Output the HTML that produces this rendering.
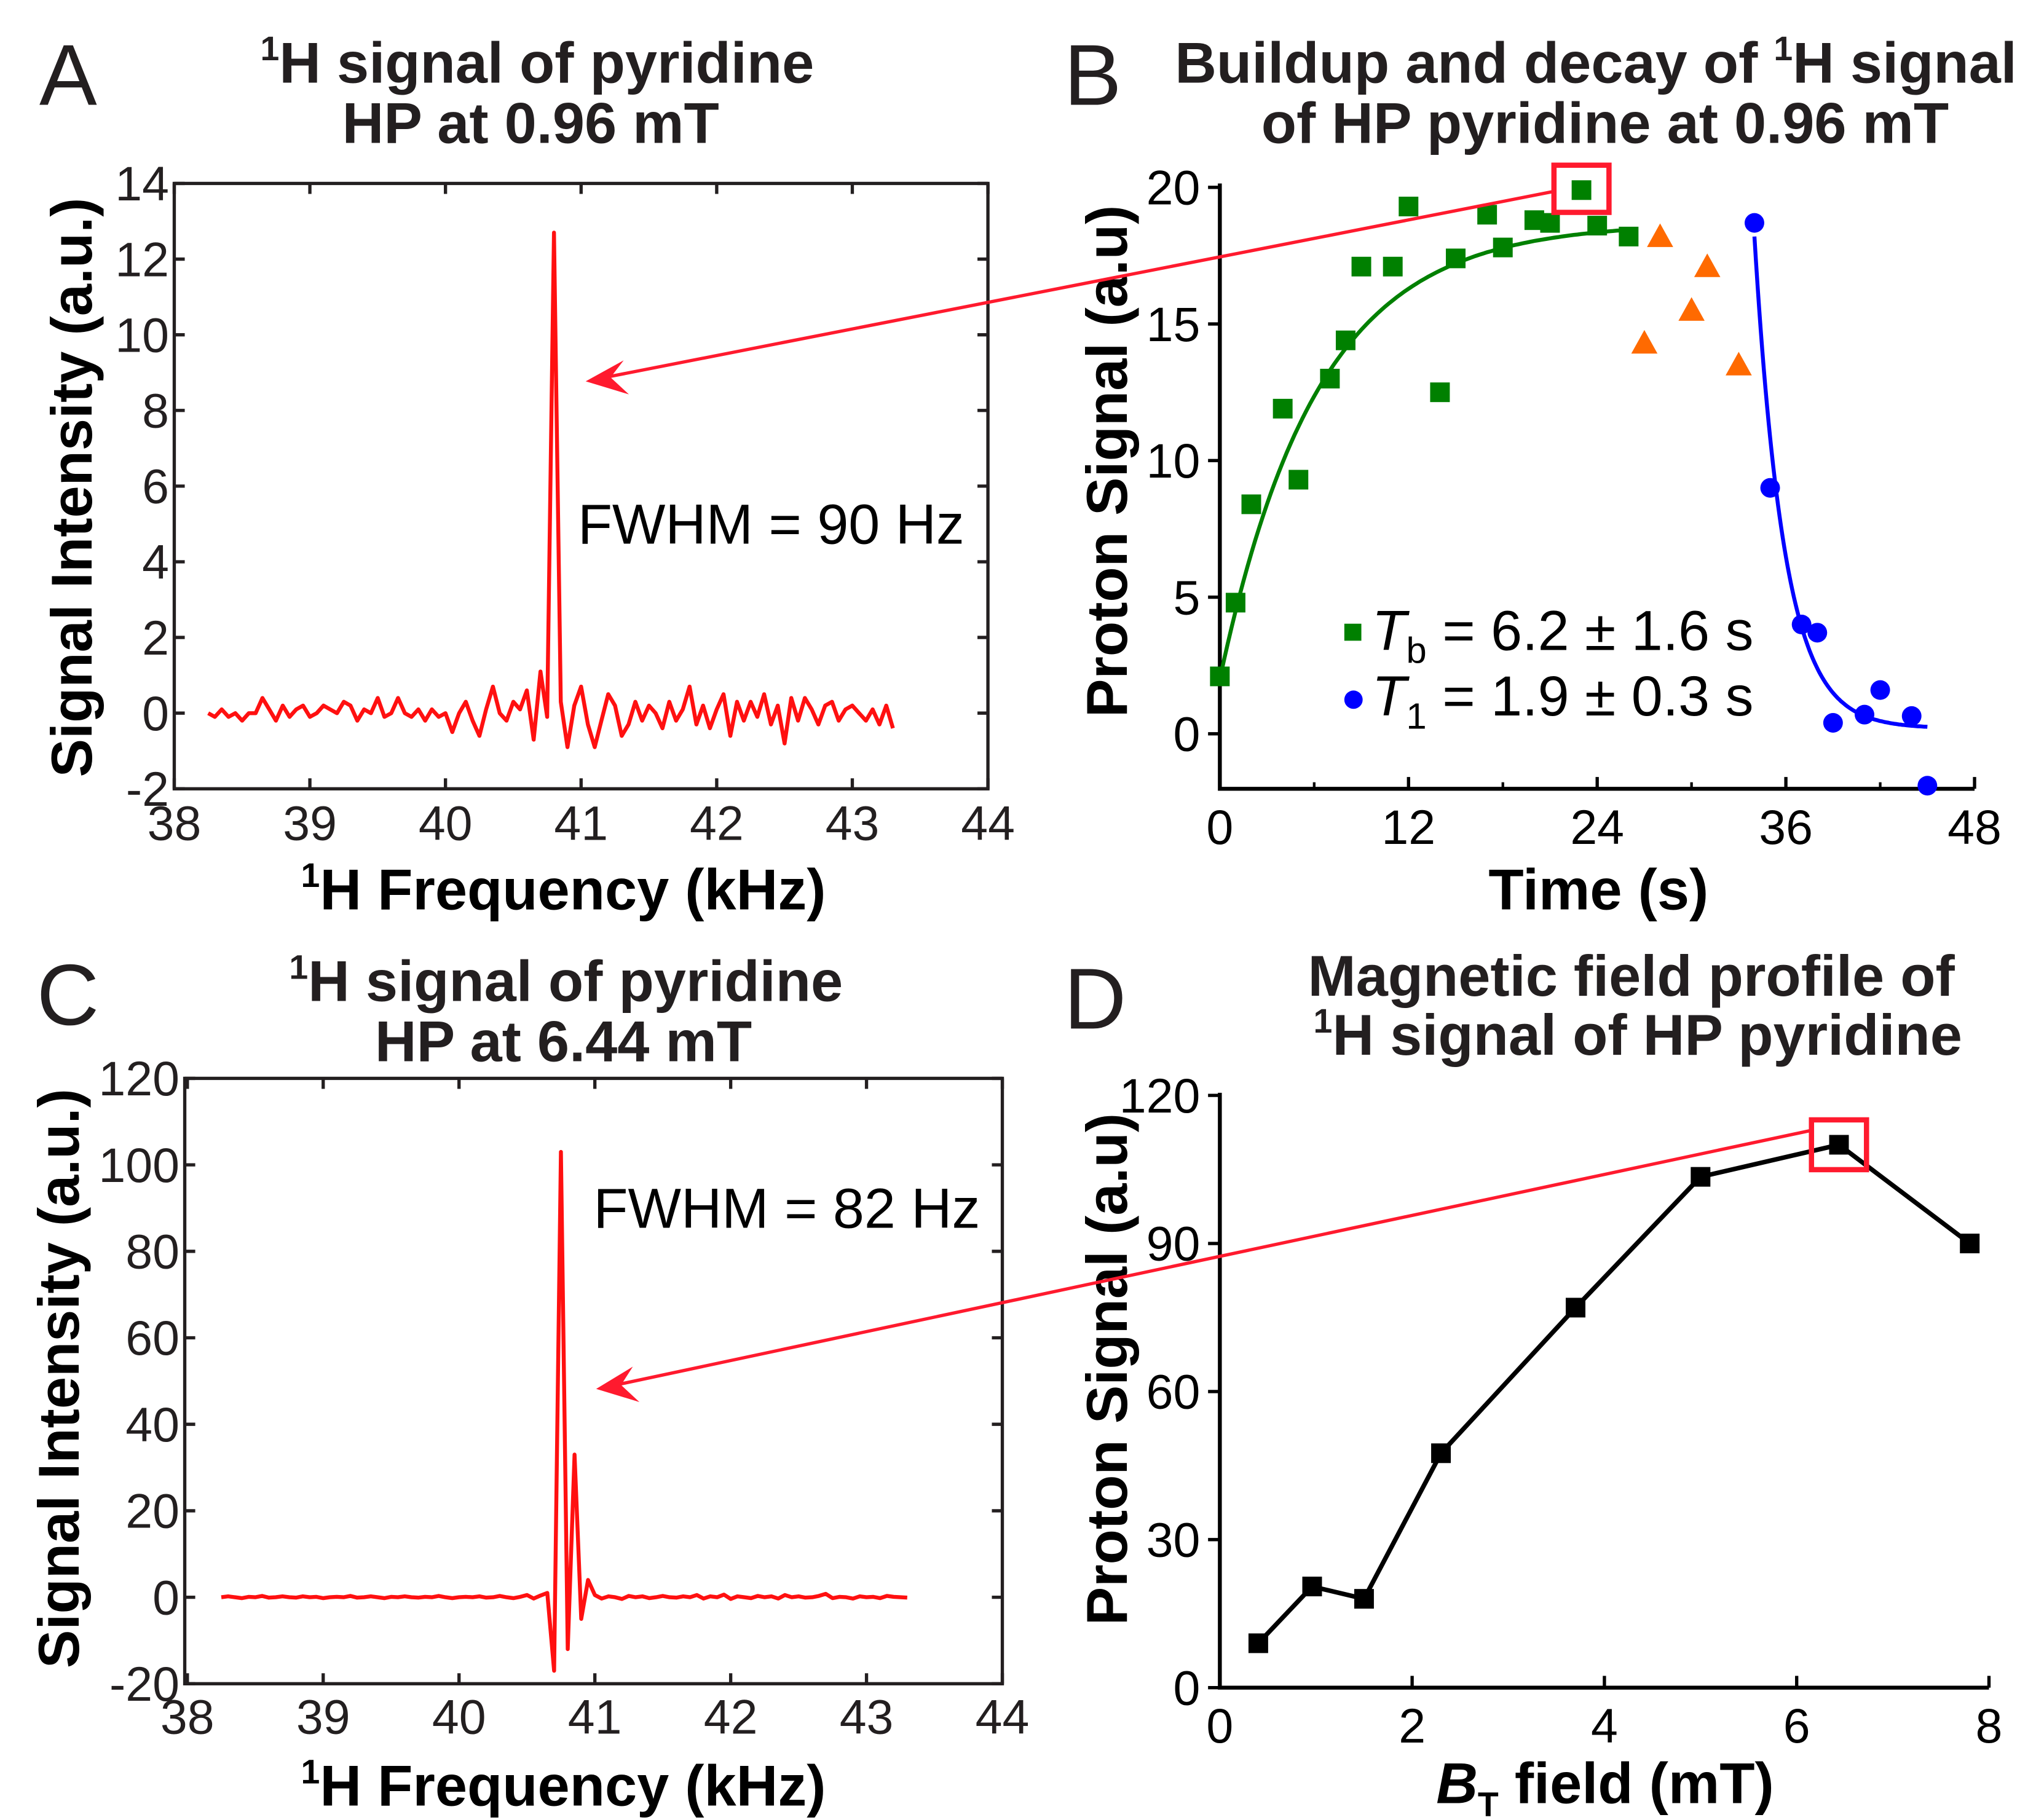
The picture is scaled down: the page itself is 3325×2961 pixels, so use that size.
<!DOCTYPE html>
<html><head><meta charset="utf-8"><style>
html,body{margin:0;padding:0;background:#fff;}
svg{display:block;font-family:"Liberation Sans",Arial,sans-serif;}
</style></head><body>
<svg id="fig" width="3325" height="2961" viewBox="0 0 1560 1389" preserveAspectRatio="none" xmlns="http://www.w3.org/2000/svg">
<rect width="1560" height="1389" fill="#fff"/>
<g font-weight="bold" fill="#231f20" font-size="44" text-anchor="middle">
<text x="410" y="63"><tspan font-size="26" dy="-17">1</tspan><tspan dy="17">H signal of pyridine</tspan></text>
<text x="405" y="109">HP at 0.96 mT</text>
<text x="1218" y="63">Buildup and decay of <tspan font-size="26" dy="-17">1</tspan><tspan dy="17">H signal</tspan></text>
<text x="1225" y="109">of HP pyridine at 0.96 mT</text>
<text x="432" y="764"><tspan font-size="26" dy="-17">1</tspan><tspan dy="17">H signal of pyridine</tspan></text>
<text x="430" y="810">HP at 6.44 mT</text>
<text x="1245" y="760">Magnetic field profile of</text>
<text x="1250" y="805"><tspan font-size="26" dy="-17">1</tspan><tspan dy="17">H signal of HP pyridine</tspan></text>
</g>
<g font-size="66" fill="#231f20">
<text x="30" y="80">A</text>
<text x="812" y="80">B</text>
<text x="28" y="782">C</text>
<text x="812" y="785">D</text>
</g>
<g font-weight="bold" fill="#000" font-size="44" text-anchor="middle">
<text x="430" y="694"><tspan font-size="26" dy="-17">1</tspan><tspan dy="17">H Frequency (kHz)</tspan></text>
<text transform="translate(70,372) rotate(-90)">Signal Intensity (a.u.)</text>
<text x="1220" y="694">Time (s)</text>
<text transform="translate(860,352) rotate(-90)">Proton Signal (a.u)</text>
<text x="430" y="1378"><tspan font-size="26" dy="-17">1</tspan><tspan dy="17">H Frequency (kHz)</tspan></text>
<text transform="translate(60,1052) rotate(-90)">Signal Intensity (a.u.)</text>
<text x="1225" y="1376"><tspan font-style="italic">B</tspan><tspan font-size="26" dy="10">T</tspan><tspan dy="-10"> field (mT)</tspan></text>
<text transform="translate(860,1045) rotate(-90)">Proton Signal (a.u)</text>
</g>
<g font-size="43" fill="#000">
<text x="441" y="415">FWHM = 90 Hz</text>
<text x="453" y="937">FWHM = 82 Hz</text>
</g>
<g id="layer"></g>
</svg>
<script>
// ---- Panel A data ----
const freqStartA = 38.25;
const freqStepA = 0.05;
const intA = [0,-0.1,0.1,-0.1,0,-0.2,0,0,0.4,0.1,-0.2,0.2,-0.1,0.1,0.2,-0.1,
0,0.2,0.1,0,0.3,0.2,-0.2,0.1,0,0.4,-0.1,0,0.4,0,-0.1,0.1,-0.2,0.1,-0.1,0,
-0.5,0,0.3,-0.2,-0.6,0.1,0.7,0,-0.2,0.3,0.1,0.6,
-0.7,1.1,-0.1,12.7,0.3,-0.9,
0.2,0.7,-0.3,-0.9,-0.2,0.5,0.2,-0.6,-0.3,0.3,-0.2,0.2,0,-0.4,0.3,-0.2,0.1,0.7,
-0.3,0.2,-0.4,0.1,0.5,-0.6,0.3,-0.2,0.3,-0.1,0.5,-0.3,0.2,-0.8,0.4,
-0.2,0.4,0.1,-0.3,0.2,0.3,-0.2,0.1,0.2,0,-0.2,0.1,-0.3,0.2,-0.4];
const xTicksA = [38,39,40,41,42,43,44];
const yTicksA = [-2,0,2,4,6,8,10,12,14];
// ---- Panel C data ----
const freqStartC = 38.25;
const freqStepC = 0.05;
const intC = [0,0.2,0,-0.2,0.1,0,0.3,-0.1,0,0.2,0,-0.1,0.2,0,0.1,-0.2,0,0.1,0,0.3,
-0.1,0,0.2,0,-0.2,0.1,0,0.2,0,-0.1,0.1,0,0.3,0,-0.2,0,0.1,0,0.2,-0.1,
0,0.3,0,-0.2,0.1,0.5,-0.3,0.4,
1,-17,103,-12,33,-5,4,0.5,
-0.3,0.2,0,-0.4,0.3,0,0.2,-0.2,0,0.3,0,-0.1,0.2,0,0.5,-0.3,0.2,0,0.6,-0.4,
0.2,0,-0.2,0.3,0,0.2,-0.3,0.5,0,0.2,-0.1,0,0.3,0.8,-0.2,0.1,0,-0.3,0.2,0,0.1,-0.2,0.3,0.1,0,-0.1];
const xTicksC = [38,39,40,41,42,43,44];
const yTicksC = [-20,0,20,40,60,80,100,120];
// ---- Panel B data ----
const buildT = [0,1,2,4,5,7,8,9,11,12,14,15,17,18,20,21,23,24,26];
const buildV = [2.1,4.8,8.4,11.9,9.3,13,14.4,17.1,17.1,19.3,12.5,17.4,19,17.8,18.8,18.7,19.9,18.6,18.2];
const midT = [27,28,30,31,33];
const midV = [14.3,18.2,15.5,17.1,13.5];
const decayT = [34,35,37,38,39,41,42,44,45];
const decayV = [18.7,9,4,3.7,0.4,0.7,1.6,0.65,-1.9];
const tb = 6.2, t1 = 1.9;
const xTicksB = [0,12,24,36,48];
const yTicksB = [0,5,10,15,20];
// ---- Panel D data ----
const fieldD = [0.4,0.96,1.5,2.3,3.7,5.0,6.44,7.8];
const signalD = [9,20.5,18,47.5,77,103.5,110,90];
const xTicksD = [0,2,4,6,8];
const yTicksD = [0,30,60,90,120];

const NS = "http://www.w3.org/2000/svg";
const layer = document.getElementById('layer');
function mk(tag, attrs, parent){const e=document.createElementNS(NS,tag);for(const k in attrs)e.setAttribute(k,attrs[k]);(parent||layer).appendChild(e);return e;}
function lin(d0,d1,r0,r1){return v=>r0+(v-d0)*(r1-r0)/(d1-d0);}
const TF = 37;

// ===== Panel A =====
const xA = lin(38,44,133,754), yA = lin(-2,14,602,140);
let f = mk('rect',{x:133,y:140,width:621,height:462,fill:'none',stroke:'#231f20','stroke-width':2.5});


xTicksA.forEach(v=>{
  let t=mk('path',{d:`M${xA(v)},602v-8M${xA(v)},140v8`,stroke:'#231f20','stroke-width':2.5});
  
  
  let l=mk('text',{x:xA(v),y:641,'text-anchor':'middle','font-size':TF,fill:'#231f20'});
  l.textContent=v;
  
  
});
yTicksA.forEach(v=>{
  let t=mk('path',{d:`M133,${yA(v)}h8M754,${yA(v)}h-8`,stroke:'#231f20','stroke-width':2.5});
  
  
  let l=mk('text',{x:129,y:yA(v)+13,'text-anchor':'end','font-size':TF,fill:'#231f20'});
  l.textContent=v;
  
  
});
let pA = intA.map((v,i)=>`${xA(freqStartA+i*freqStepA).toFixed(1)},${yA(v).toFixed(1)}`).join(' ');
let sA = mk('polyline',{points:pA,fill:'none',stroke:'#ff1010','stroke-width':3,'stroke-linejoin':'round'});



// ===== Panel C =====
const xC = lin(38,44,143,765), yC = lin(-20,120,1285,823);
f = mk('rect',{x:141,y:823,width:624,height:462,fill:'none',stroke:'#231f20','stroke-width':2.5});


xTicksC.forEach(v=>{
  let t=mk('path',{d:`M${xC(v)},1285v-8M${xC(v)},823v8`,stroke:'#231f20','stroke-width':2.5});
  
  
  let l=mk('text',{x:xC(v),y:1323,'text-anchor':'middle','font-size':TF,fill:'#231f20'});
  l.textContent=v;
  
  
});
yTicksC.forEach(v=>{
  let t=mk('path',{d:`M141,${yC(v)}h8M765,${yC(v)}h-8`,stroke:'#231f20','stroke-width':2.5});
  
  
  let l=mk('text',{x:137,y:yC(v)+13,'text-anchor':'end','font-size':TF,fill:'#231f20'});
  l.textContent=v;
  
  
});
let pC = intC.map((v,i)=>`${xC(freqStartC+i*freqStepC).toFixed(1)},${yC(v).toFixed(1)}`).join(' ');
let sC = mk('polyline',{points:pC,fill:'none',stroke:'#ff1010','stroke-width':3,'stroke-linejoin':'round'});



// ===== Panel B =====
const xB = lin(0,48,931,1507), yB = lin(0,20,560,143);
let ax = mk('path',{d:'M931,140V602H1507',fill:'none',stroke:'#000','stroke-width':3});


xTicksB.forEach(v=>{
  let t=mk('path',{d:`M${xB(v)},602v-9`,stroke:'#000','stroke-width':2.5});
  
  
  let m=mk('path',{d:`M${xB(v+6)},602v-5`,stroke:'#000','stroke-width':2});
  
  
  let l=mk('text',{x:xB(v),y:644,'text-anchor':'middle','font-size':TF,fill:'#000'});
  l.textContent=v;
  
  
});
yTicksB.forEach(v=>{
  let t=mk('path',{d:`M931,${yB(v)}h-9`,stroke:'#000','stroke-width':2.5});
  
  
  let l=mk('text',{x:916,y:yB(v)+13,'text-anchor':'end','font-size':TF,fill:'#000'});
  l.textContent=v;
  
  
});
let gp=[];for(let t=0;t<=26;t+=0.25){gp.push(`${xB(t).toFixed(1)},${yB(2+16.7*(1-Math.exp(-t/tb))).toFixed(1)}`);}
let gf=mk('polyline',{points:gp.join(' '),fill:'none',stroke:'#008000','stroke-width':3});


let bp=[];for(let t=34;t<=45.1;t+=0.1){bp.push(`${xB(t).toFixed(1)},${yB(0.2+18*Math.exp(-(t-34)/t1)).toFixed(1)}`);}
let bf=mk('polyline',{points:bp.join(' '),fill:'none',stroke:'#0000ff','stroke-width':3});


buildT.forEach((t,i)=>{
  let r=mk('rect',{x:xB(t)-7.5,y:yB(buildV[i])-7.5,width:15,height:15,fill:'#008000'});
  
  
});
midT.forEach((t,i)=>{
  const x=xB(t),y=yB(midV[i]);
  let r=mk('path',{d:`M${x},${y-10}L${x+10},${y+8}L${x-10},${y+8}Z`,fill:'#ff6a00'});
  
  
});
decayT.forEach((t,i)=>{
  let r=mk('circle',{cx:xB(t),cy:yB(decayV[i]),r:7.5,fill:'#0000ff'});
  
  
});
let lg=mk('g',{});


let l1=mk('rect',{x:1026,y:476,width:13,height:13,fill:'#008000'},lg);


let lt1=mk('text',{x:1047,y:496,'font-size':43,fill:'#000'},lg);
lt1.innerHTML='<tspan font-style="italic">T</tspan><tspan font-size="28" dy="10">b</tspan><tspan dy="-10"> = 6.2 ± 1.6 s</tspan>';


let l2=mk('circle',{cx:1033,cy:534,r:7,fill:'#0000ff'},lg);


let lt2=mk('text',{x:1047,y:546,'font-size':43,fill:'#000'},lg);
lt2.innerHTML='<tspan font-style="italic">T</tspan><tspan font-size="28" dy="10">1</tspan><tspan dy="-10"> = 1.9 ± 0.3 s</tspan>';



// ===== Panel D =====
const xD = lin(0,8,931,1518), yD = lin(0,120,1288,836);
ax = mk('path',{d:'M931,834V1288H1518',fill:'none',stroke:'#000','stroke-width':3});


xTicksD.forEach(v=>{
  let t=mk('path',{d:`M${xD(v)},1288v-9`,stroke:'#000','stroke-width':2.5});
  
  
  let l=mk('text',{x:xD(v),y:1330,'text-anchor':'middle','font-size':TF,fill:'#000'});
  l.textContent=v;
  
  
});
yTicksD.forEach(v=>{
  let t=mk('path',{d:`M931,${yD(v)}h-9`,stroke:'#000','stroke-width':2.5});
  
  
  let l=mk('text',{x:916,y:yD(v)+13,'text-anchor':'end','font-size':TF,fill:'#000'});
  l.textContent=v;
  
  
});
let dl=mk('polyline',{points:fieldD.map((v,i)=>`${xD(v)},${yD(signalD[i])}`).join(' '),fill:'none',stroke:'#000','stroke-width':3.5});


fieldD.forEach((v,i)=>{
  let r=mk('rect',{x:xD(v)-7.5,y:yD(signalD[i])-7.5,width:15,height:15,fill:'#000'});
  
  
});

// ===== Annotations =====
const hlB=[xB(buildT[16]),yB(buildV[16])];
let bx=mk('rect',{x:hlB[0]-21,y:hlB[1]-19,width:42,height:36,fill:'none',stroke:'#ff1a2e','stroke-width':4});


let ar1=mk('path',{d:`M${hlB[0]-21},${hlB[1]+1}L462,288`,stroke:'#ff1a2e','stroke-width':2.5,fill:'none'});


let ah1=mk('path',{d:'M447,291L476,275L466,288L480,301Z',fill:'#ff1a2e'});


const hlD=[xD(fieldD[6]),yD(signalD[6])];
let bx2=mk('rect',{x:hlD[0]-21,y:hlD[1]-19,width:42,height:38,fill:'none',stroke:'#ff1a2e','stroke-width':4});


let ar2=mk('path',{d:`M${hlD[0]-21},${hlD[1]-11}L470,1057`,stroke:'#ff1a2e','stroke-width':2.5,fill:'none'});


let ah2=mk('path',{d:'M455,1060L483,1043L474,1057L488,1070Z',fill:'#ff1a2e'});


</script>
</body></html>
